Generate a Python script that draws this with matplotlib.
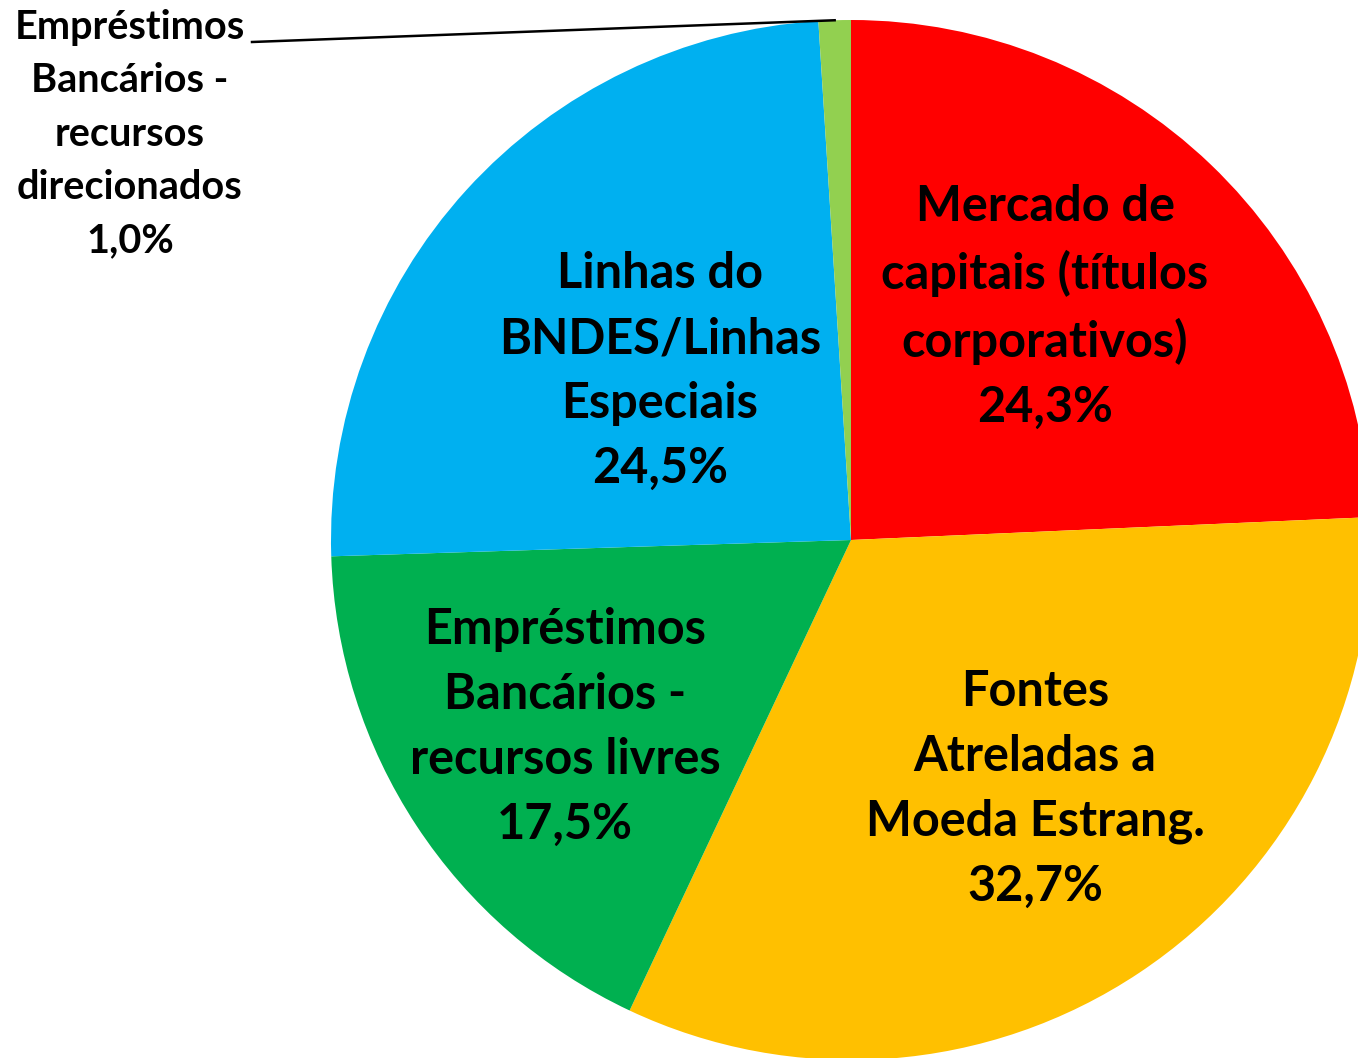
import numpy as np
import matplotlib
matplotlib.use("Agg")
import matplotlib.pyplot as plt

# shares of funding sources (%), clockwise from 12 o'clock
labels = [
    "Mercado de\ncapitais (títulos\ncorporativos)",
    "Fontes\nAtreladas a\nMoeda Estrang.",
    "Empréstimos\nBancários -\nrecursos livres",
    "Linhas do\nBNDES/Linhas\nEspeciais",
    "Empréstimos\nBancários -\nrecursos\ndirecionados",
]
values = [24.3, 32.7, 17.5, 24.5, 1.0]
colors = ["#FF0000", "#FFC000", "#00B050", "#00B0F0", "#92D050"]

W, H = 1358, 1058
fig = plt.figure(figsize=(W / 100, H / 100), dpi=100)
ax = fig.add_axes([0, 0, 1, 1])

cx, cy, R = 851, H - 540, 520
wedges, _ = ax.pie(values, colors=colors, startangle=90, counterclock=False,
                   radius=R, center=(cx, cy), frame=True,
                   wedgeprops=dict(linewidth=0))
ax.set_xlim(0, W)
ax.set_ylim(0, H)
ax.set_aspect("equal")
ax.axis("off")

font = dict(family=["Lato", "DejaVu Sans"], fontweight="bold", color="black")
# label block centres in pixels (x from left, y from top)
label_pos = [(1045, 307), (1035, 789), (565, 727), (660, 371), (130, 134)]


def fmt(v):
    return f"{v:.1f}%".replace(".", ",")


for i, (lab, val) in enumerate(zip(labels, values)):
    px, py = label_pos[i]
    small = i == 4
    ax.text(px, H - py, lab + "\n" + fmt(val), ha="center", va="center",
            fontsize=28.5 if small else 35,
            linespacing=1.55 if small else 1.54, **font)

# leader line for the thin slice
w = wedges[4]
ang = np.deg2rad((w.theta1 + w.theta2) / 2)
x0 = cx + R * np.cos(ang)
y0 = cy + R * np.sin(ang)
ax.plot([x0, 252], [y0, H - 42], color="black", lw=1.8)

fig.savefig("out.png", dpi=100)
